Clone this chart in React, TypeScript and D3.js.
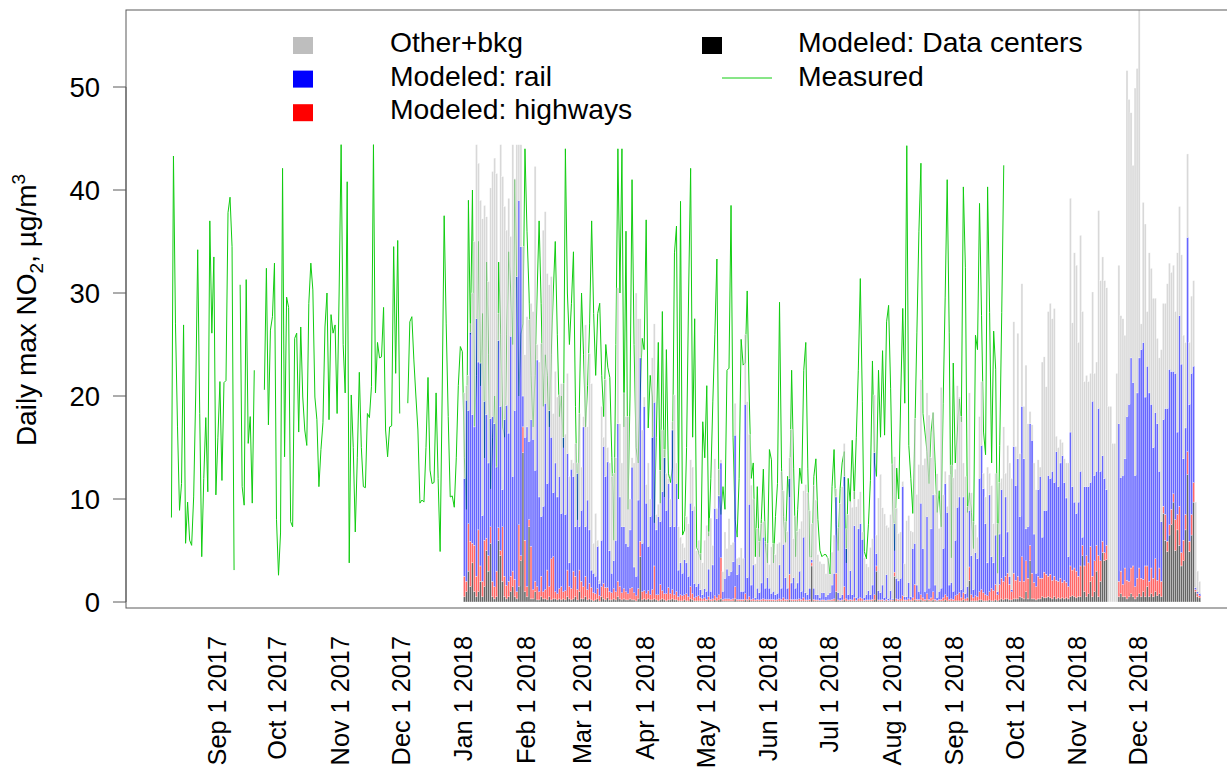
import React from "react";
import * as d3 from "d3";

const width = 1227;
const height = 769;
const marginLeft = 126;
const marginTop = 10;
const plotBottom = 608;
const plotRight = 1240;

// daily components, Jan 1 - Dec 31 2018 (one row per month)
const dataCenters = [
  .5,1,3,1.5,3.8,1,.5,1,2,.5,1.5,5,3,5.7,.5,.3,.5,6,4.5,2,.5,.3,.5,1,1.5,.5,.3,1.5,4,14.5,1,
  .5,7.3,.3,.3,1,.2,.2,.5,.3,.3,.2,.5,.2,.3,.3,.2,.3,.2,.3,.2,.5,.3,.2,.3,.5,.2,1,.3,
  .3,.5,.2,.3,.2,.1,.2,.3,.1,.5,.3,.2,.4,.2,.2,.3,.2,.5,.3,.2,.3,.2,.2,.3,.2,.2,.1,.3,4.4,.2,.3,
  .2,.3,.2,.2,.3,.2,.1,.2,.3,.2,.1,.2,.2,.3,.2,.2,.1,.1,.1,.2,.1,.1,.3,.2,.1,.1,.1,.1,.1,.1,
  .1,.2,.1,.1,.2,.1,.2,.3,.1,.1,.1,.1,.1,.1,.3,.1,.1,.1,.1,.2,.1,.2,.1,.1,.1,.1,.1,.1,.1,.1,.1,
  .1,.1,.1,.1,.1,.1,.1,.1,.1,.1,.2,.1,.1,.1,.1,.1,.1,.1,.1,.1,.1,3.5,.1,.1,.1,.1,.1,.1,.1,.1,
  .1,.1,.1,1,.1,.1,.1,.2,.1,.1,.1,.1,.1,.1,.1,.1,.1,.1,.1,.1,.1,.1,.2,3,.1,.1,.1,.1,.1,.1,.1,
  .1,2.5,.1,.1,.1,.1,.1,.1,.1,.1,.1,.2,.1,.1,.2,.1,.1,.2,.1,.1,.2,.1,.1,.1,.1,.1,.2,.1,.1,.1,.1,
  .1,.1,.1,.1,.2,.1,.1,2.1,.1,.1,.1,.1,.2,.2,.1,.1,.1,.2,.1,.1,.2,.1,.2,.3,.2,.3,.3,.2,.2,.3,
  .3,.3,.5,.4,.3,1,.3,4,.3,.3,.2,.3,.3,.5,.4,.4,.5,.4,.3,.5,.3,.4,.3,.4,.3,.4,.3,.5,.6,.5,.4,
  .5,.5,4.5,1,.5,.8,2,.5,1,3,.5,2,4.8,4,4.1,0,0,0,0,0,.5,.8,.5,.5,.3,.5,.8,.5,.3,.5,
  .8,.5,1,.5,1.5,.5,.8,.5,1,.6,.8,.5,8.6,6,4.9,6.5,7.5,9.7,5,7,5.5,3.5,4,7,12.4,4.9,6.5,9.7,1,.5,.4,
];

const highways = [
  2,1,4.6,4.4,1.9,4.5,2,6,1.5,1.5,4.5,1.2,1.5,1.6,1.5,1.2,2.5,1.2,.5,5.3,2,1.3,1.5,1.5,1.5,1.7,.7,6,.5,2.5,5,
  1,.7,5.1,.9,1,1.3,.8,2,.7,.9,2.9,1,4,4.1,.7,.6,1,1.3,.7,.9,2.6,1.2,1.1,2.7,2,1,2.1,1.7,
  1.2,2,1,1.5,1.2,.8,.6,1,.5,1,1.5,1.2,1,.8,.7,1,.8,1.5,1.2,.7,1,.8,.6,1,1.2,.7,.5,1,1.5,.8,.8,
  .6,.8,.5,1,3.2,.5,.6,1.5,.8,.6,.7,1.2,.6,.9,.5,.8,.4,.6,.5,.5,.7,.4,1.2,.6,.3,.4,.5,.3,.2,.3,
  .15,.3,.15,.2,.4,.3,.5,4,.15,.2,.2,.2,.15,.2,1.2,.15,.15,.15,.15,.6,.15,.3,.15,.2,.1,.15,.1,.15,.2,.15,.15,
  .15,.15,.15,.1,.15,.2,.15,.3,.15,.15,2.5,.15,.15,.15,.15,.2,.15,.3,.1,.1,.15,.3,.15,.1,.1,.05,.1,.1,.05,.1,
  .1,.15,.2,1.8,.1,.05,.1,1.3,.2,.1,.15,.1,.3,.05,.2,.3,.2,.05,.1,.1,.1,.15,.5,.5,.1,.1,.15,.05,.15,.05,.1,
  .1,.4,.2,.15,.2,.5,.1,.1,.2,.1,.3,1.5,.15,.15,.5,.3,.15,.6,.15,.3,.8,.15,.05,.15,.15,.3,.5,.4,.15,.2,.15,
  .5,.6,.8,.3,.7,.2,.3,1.3,.6,.3,.5,.4,.8,1,.8,.6,.5,.8,1.2,1,1.5,.6,1.5,2,1.8,2.2,2.5,1.5,.8,2.5,
  1.8,2.2,1.5,4,1.7,3,2,1.5,2.5,1.6,1.3,2.2,2,1.8,2.5,2.3,2,2.3,1.8,2,1.8,1.6,2,1.5,1.8,1.5,1.2,3,2.5,2.8,2.6,
  2,3,1,2.5,4,3,3.4,2,3,2.5,4,2,1.1,.8,1.4,0,0,0,0,0,1.5,2.2,1.2,2.8,1.8,1.5,2.5,3,1.2,1.8,
  2.5,1.8,1.2,3,2,1.5,2.5,1.8,3.2,1.5,2.5,1.5,.7,2.5,1,1,1.5,.8,3,1.5,3.8,1.3,2,1.5,2.2,1,2,1.9,.2,.3,.2,
];

const rail = [
  9.5,17.6,11,20.3,12.5,11.5,25,16.3,19.7,6.4,13.5,12,9,10.5,16,15.8,10.1,18.2,14,3.6,15.2,17.5,14.4,23.3,9.2,16.4,30.6,31.5,30,3,10,
  15.5,7.6,12.3,14.6,10.8,22,9.2,5.8,8.3,18.1,8.4,17.1,11.8,6.2,12.5,9.4,10.9,7.1,15,7.4,11.3,2.3,11.6,9.2,4.8,11.3,4.2,6.9,
  15.5,4.8,8.7,5.2,1.7,1.9,1.7,4.1,1.2,4.5,13.3,10.8,12.2,4,1.9,2.7,5,15.3,8.7,6.4,6,4.7,4.6,5.7,11.7,2.5,1.9,8.6,17.8,4.7,17.9,
  8.8,4.3,7.6,14.8,15.9,6.3,7.6,6.1,9.6,13.2,8.1,10.1,6.5,15.5,6.6,10.5,2.6,3.1,2.2,3.4,3,2,8.1,8.1,1.4,1,1.2,.8,.4,.9,
  .8,2.7,.8,3.3,8.5,7.7,9.6,9.2,.8,2,2.9,2.3,2.7,3.6,14.7,2.4,3.4,.8,.8,18.4,2.1,9,1.4,3.3,.2,1.1,.7,1.6,6,1.1,2.1,
  1.1,.6,.8,.5,.6,3.3,1.1,5.2,2.1,1.1,9.3,1.6,2.1,1.1,1.6,2.7,.8,5.9,.7,.5,1.1,.3,1.1,.5,.5,.3,.7,.7,.4,.5,
  .7,1.4,2.5,7.4,.7,.3,.5,10.7,4.9,.5,2.8,.5,7,.3,6.8,7.2,5.8,.3,.5,.9,.5,1.4,13.8,1.2,.9,.7,1.4,.3,2.4,.2,.9,
  .1,4.7,2,1.8,2,10.6,.3,.3,1.6,.3,4.8,4,1.4,.8,8.9,4.8,.8,7.5,1.1,6.7,9.4,1.4,.3,.8,1.1,4.8,10.8,8.2,1.4,1.6,.8,
  5.4,8.5,9.3,.8,9.3,.5,1.1,5.5,3.8,.8,4.2,3.7,11,14,10.1,6.9,3.2,9.4,3.1,2.7,4.8,.3,4.9,8.6,2.4,7.7,4,.8,.2,12.3,
  9.2,11.4,6.3,14.6,11.9,3.1,5,11.8,12.9,4.7,1.3,8.4,9.9,4,6,6.2,9.8,9.3,10.6,9.1,12.5,9.2,11.2,12.3,9.5,8.2,2.9,13,8.1,6.4,5.6,
  7.2,9.2,.8,7.7,6.7,7.4,6.2,17,8.3,7.2,14.3,8.7,8.3,7.2,5.4,0,0,0,0,0,15.3,9.1,10.6,10.6,15.9,17.2,20.4,17.8,10.8,18,
  20.4,22.2,23,16.4,19.4,18.3,15.9,12.7,14.2,15.2,9.4,5.8,8.4,10.3,12.9,15.1,13.4,11.9,14.2,8,18.5,18.3,7.9,8.4,20.8,13.3,13.7,11.3,.2,.2,.2,
];

const other = [
  8.3,1.4,3.4,.8,11.8,18,16.9,19.3,15.8,28.8,19,19.2,17.6,22.4,23.8,25.8,28.5,2.6,25.4,30.4,20.7,17,22.8,9.7,32.2,22.5,12.8,5.4,9.9,14.5,8,
  10.7,11.8,11.3,12.4,29.5,1.5,13.1,16.8,26.8,18.6,20.4,12.2,15.6,7.7,8.9,9.7,7.9,12.6,5.2,7.8,7.8,8.4,.9,1.3,8.1,1,11,4.2,
  1,19.6,7.1,17.1,18.1,2.9,6.1,.6,.3,13,.9,9.4,1.4,8.5,9.4,8.5,8,13.2,7.1,6.2,13,12.3,12.6,3,.9,10.1,27.5,17.6,3.8,11,.9,
  1.8,8.1,1.7,7.7,7.6,1.5,1.2,5,6,.8,3.6,.5,2.7,.8,12.8,2,4.2,2.5,2.9,1.2,4.5,5.1,4.2,4.2,7.5,3.5,4.2,3.5,3.1,4.7,
  6.4,3.6,7.1,1.9,4.8,1,2.6,.3,1.9,4.5,2,5.5,2.6,1.9,3.1,1.6,.7,4.2,3.2,6.8,17.1,6.8,9.7,6.4,3.3,5.8,5,5.8,1.5,4.5,3.3,
  2.3,4.5,4.6,3.9,4.8,2.2,11.3,5.2,5.5,5.5,2,14.9,3.8,7,5,4.1,6.8,4.5,10.5,9.9,7.5,3.5,10,9.2,3.9,3.5,2.8,2.8,2.2,3.6,
  1.8,3.2,3.7,.8,6.3,9.1,10.5,3.2,1.9,7.8,6.7,8.5,3.3,8.8,2.9,3.1,.7,3.9,3,2.3,4.6,4.5,5.6,1.8,9,11.5,7.5,8.1,4.8,6.9,7.4,
  13.1,6.5,6.8,4.6,4.5,.5,3.2,7.4,6.5,6.4,1.6,12.1,8.8,12.3,12,8.1,12.9,12,16.8,6.9,8,8.8,12,6.1,19.5,5.2,1.2,.6,10.7,11.4,11,
  6.9,11.8,9.7,16.8,3.3,11.4,7.8,11.4,6.1,6.6,2.7,2.1,6,6.2,1.5,2.6,9.3,2.1,6.9,3.8,6,6.6,5,1.1,12.6,2.3,8.4,11,10.8,12.1,
  3.8,12.2,6.1,11.9,5.1,15.9,10,1.2,1.5,6.9,8.1,2.9,.9,17,14.9,12,15.9,17,14.8,16.9,1.5,3.8,2.3,1.3,2.3,3.4,9.1,22.7,15.9,24.2,24.1,
  15.5,22.9,21.9,10.2,10.8,10.2,10.6,10.6,9.9,10.6,19.2,18.5,19.3,19.2,19.6,19,19,15.4,15.4,22.2,15.4,15.7,15.2,12,33.6,29.6,23.8,21.1,37.6,31.5,
  36.3,2.5,13.6,16.8,5.3,13.6,13.2,14.5,11.1,8.3,11,16.7,11.3,10.2,12.1,10.3,9.6,10.3,6,17.4,10.6,10.6,12,8.3,8.1,6,7.5,8.3,8.3,2,1.2,
];

// measured daily max, from Aug 9 2017 (null = missing)
const measured2017 = [
  8.2,43.3,27,17,8.9,11.5,26.9,5.7,9.7,6,5.5,10.2,20,34.2,18.3,4.4,12,17.9,10.7,37,
  26.1,33.5,10.4,16,21.4,11.8,21.3,21.5,37.8,39.3,34.5,3.1,null,null,30.8,11.2,9.4,31.3,15.4,18,
  9.6,22.5,null,null,null,null,20.6,32.4,17.2,26.4,27.7,32.9,8,2.6,6.7,42.1,14.1,29.6,28.6,7.8,
  7.3,25.6,26.1,16.5,26.7,19.9,16.7,15.2,29,32.9,30.3,19.9,17.7,11.2,14.8,17.4,26.7,30,17.7,27.9,
  26.1,26.9,18.3,30,44.4,25,20.3,40.8,3.8,20.1,15,6.8,14,22.3,15,11.2,11.1,18.3,17.9,20.9,
  44.4,20.3,25.2,23.7,23.8,28.6,16.7,14.1,17,17.1,34.5,22.2,35.1,18.3,null,null,null,19.3,27.2,27.7,
  23.5,20,16.7,9.6,9.9,9.7,15,21.8,12.8,11.5,11.6,20.3,12,4.9,20,37.5,27,18,10.2,10.3,
  9.2,14,21,24.8,24.3,
];

// measured daily max, from Jan 1 2018
const measured2018 = [
  14,9,39,26,40,17,22,35,21,28,14,33,24,11,16,20,13,33,26,17,
  16,26,34,30,25,41,30,20,26,27,44,36,30,22,17,22,30,37,29,19,
  24,22,17,24,30,35,26,18,20,15,44,30,25,29,34,19,8,20,30,24,
  17,21,27,37,28,22,28,29,22,18,25,22.8,21.8,14,6,25,44,30,44,17,
  36,9,20,41,25,15,13.5,20,25.6,24.5,37.1,16.9,22,19.9,7.7,16,25.2,9.6,28.2,10.2,
  24.5,12.5,11.6,13,33.9,36.5,10,38.9,6.5,7,15,30,42.1,16,27.5,5.3,4.8,4.1,17.5,14,
  21,6.4,12,19.5,26,33.3,10.5,8.5,11.2,9,22.5,22.7,38.5,16,8,6.3,12,25.5,23,23.2,
  30.2,20,12,13.5,4.4,11.2,4.4,8,12.9,5.7,3.8,14.8,13.8,3.8,8.3,11.5,29.1,13,8.3,5.8,
  12.2,10.2,22.5,13,4.4,9,13,11.5,22.5,25.2,13,4.4,4.4,12.2,13.9,8,5,4.4,4.6,4.6,
  4.2,2.7,11.2,14.8,7.5,5,11,13.5,14.6,3.8,12,9.7,15.7,10,16,22.5,31.4,19.5,4.9,4.2,
  7.5,11.8,23.4,13.5,12.2,22.5,16,24.4,16.2,27.2,28.8,20.7,10.2,5,13,10,19.9,28.5,19.3,44.3,
  15.2,12,8.6,16.5,26.2,36,42.6,18.3,16.5,14.6,11.5,16.5,18.4,13.5,8.7,10.8,7.3,19.3,29.6,41,
  26.2,4.3,23.2,13.5,16.5,19.7,17.5,40.3,32.5,8.7,10.6,8.7,5.2,25.9,24.5,38.7,27.8,16.5,14.3,40.3,
  28.1,13.5,26.3,22.6,2.8,15.2,28.1,42.4,
];

const xTickDates = [
  "2017-09-01","2017-10-01","2017-11-01","2017-12-01","2018-01-01","2018-02-01","2018-03-01","2018-04-01",
  "2018-05-01","2018-06-01","2018-07-01","2018-08-01","2018-09-01","2018-10-01","2018-11-01","2018-12-01",
];
const yTicks = [0, 10, 20, 30, 40, 50];

const keys = ["dataCenters", "highways", "rail", "other"];
const colors: Record<string, string> = {
  dataCenters: "#000000",
  highways: "#ff0000",
  rail: "#0000ff",
  other: "#bebebe",
};

const legendLeft = [
  { label: "Other+bkg", color: "#bebebe" },
  { label: "Modeled: rail", color: "#0000ff" },
  { label: "Modeled: highways", color: "#ff0000" },
];

const font = "'Liberation Sans', Arial, Helvetica, sans-serif";
const fs = 27.5;
const legendFs = 28.3;
const xLabelFs = 25.3;
const axisColor = "#5a5a5a";
const lineColor = "#11cc11";

export default function App() {
  const x = d3
    .scaleUtc()
    .domain([new Date(Date.UTC(2017, 6, 18)), new Date(Date.UTC(2019, 0, 14))])
    .range([marginLeft, width]);
  const y = d3.scaleLinear().domain([-0.5825, 57.476]).range([plotBottom, marginTop]);

  const start2018 = new Date(Date.UTC(2018, 0, 1));
  const start2017 = new Date(Date.UTC(2017, 7, 9));
  const n = Math.min(dataCenters.length, highways.length, rail.length, other.length);
  const rows = d3.range(n).map((i) => ({
    date: d3.utcDay.offset(start2018, i),
    dataCenters: dataCenters[i],
    highways: highways[i],
    rail: rail[i],
    other: other[i],
  }));
  const series = d3.stack<any>().keys(keys)(rows);

  const pts = [
    ...measured2017.map((v, i) => ({ date: d3.utcDay.offset(start2017, i), v })),
    ...measured2018.map((v, i) => ({ date: d3.utcDay.offset(start2018, i), v })),
  ];
  const line = d3
    .line<any>()
    .defined((d) => d.v != null)
    .x((d) => x(d.date) + 1)
    .y((d) => y(d.v));

  const fmt = d3.utcFormat("%b %-d %Y");

  return (
    <svg
      width={width}
      height={height}
      style={{ position: "absolute", left: 0, top: 0, background: "#fff" }}
      fontFamily={font}
    >
      <defs>
        <clipPath id="plot">
          <rect x={marginLeft} y={marginTop} width={plotRight - marginLeft} height={plotBottom - marginTop} />
        </clipPath>
      </defs>

      <g clipPath="url(#plot)">
        <path d={line(pts) || ""} fill="none" stroke={lineColor} strokeWidth={1} />
        {series.map((s) => (
          <g key={s.key} fill={colors[s.key]} fillOpacity={0.6} stroke="#ffffff" strokeWidth={0.35}>
            {s.map((d: any, i: number) => {
              const h = y(d[0]) - y(d[1]);
              if (h <= 0) return null;
              const x0 = x(d.data.date);
              const x1 = x(d3.utcDay.offset(d.data.date, 1));
              return <rect key={i} x={x0} y={y(d[1])} width={x1 - x0} height={h} />;
            })}
          </g>
        ))}
      </g>

      {/* plot box */}
      <rect
        x={marginLeft}
        y={marginTop}
        width={plotRight - marginLeft}
        height={plotBottom - marginTop}
        fill="none"
        stroke={axisColor}
        strokeWidth={1}
      />

      {/* y axis */}
      <line x1={marginLeft} x2={marginLeft} y1={y(0)} y2={y(50)} stroke={axisColor} />
      {yTicks.map((t) => (
        <g key={t}>
          <line x1={marginLeft - 13} x2={marginLeft} y1={y(t)} y2={y(t)} stroke={axisColor} />
          <text x={100} y={y(t)} dy="0.35em" textAnchor="end" fontSize={fs} fill="#000">
            {t}
          </text>
        </g>
      ))}

      {/* x labels */}
      {xTickDates.map((s) => {
        const d = new Date(s + "T00:00:00Z");
        const px = x(d);
        return (
          <text
            key={s}
            transform={`translate(${px},636) rotate(-90)`}
            dy="0.35em"
            textAnchor="end"
            fontSize={xLabelFs}
            fill="#000"
          >
            {fmt(d)}
          </text>
        );
      })}

      {/* y title */}
      <text transform="translate(36,310) rotate(-90)" textAnchor="middle" fontSize={28} fill="#000">
        Daily max NO
        <tspan dy={7} fontSize={19}>2</tspan>
        <tspan dy={-7}>, µg/m</tspan>
        <tspan dy={-11} fontSize={19}>3</tspan>
      </text>

      {/* legend */}
      {legendLeft.map((l, i) => (
        <g key={l.label}>
          <rect x={293} y={37 + i * 33.6} width={20} height={17} fill={l.color} />
          <text x={390} y={52 + i * 33.6} fontSize={legendFs} fill="#000">
            {l.label}
          </text>
        </g>
      ))}
      <rect x={702} y={37} width={20} height={17} fill="#000" />
      <text x={798} y={52} fontSize={legendFs} fill="#000">
        Modeled: Data centers
      </text>
      <line x1={722} x2={772} y1={78} y2={78} stroke={lineColor} strokeWidth={1} />
      <text x={798} y={85.6} fontSize={legendFs} fill="#000">
        Measured
      </text>
    </svg>
  );
}
